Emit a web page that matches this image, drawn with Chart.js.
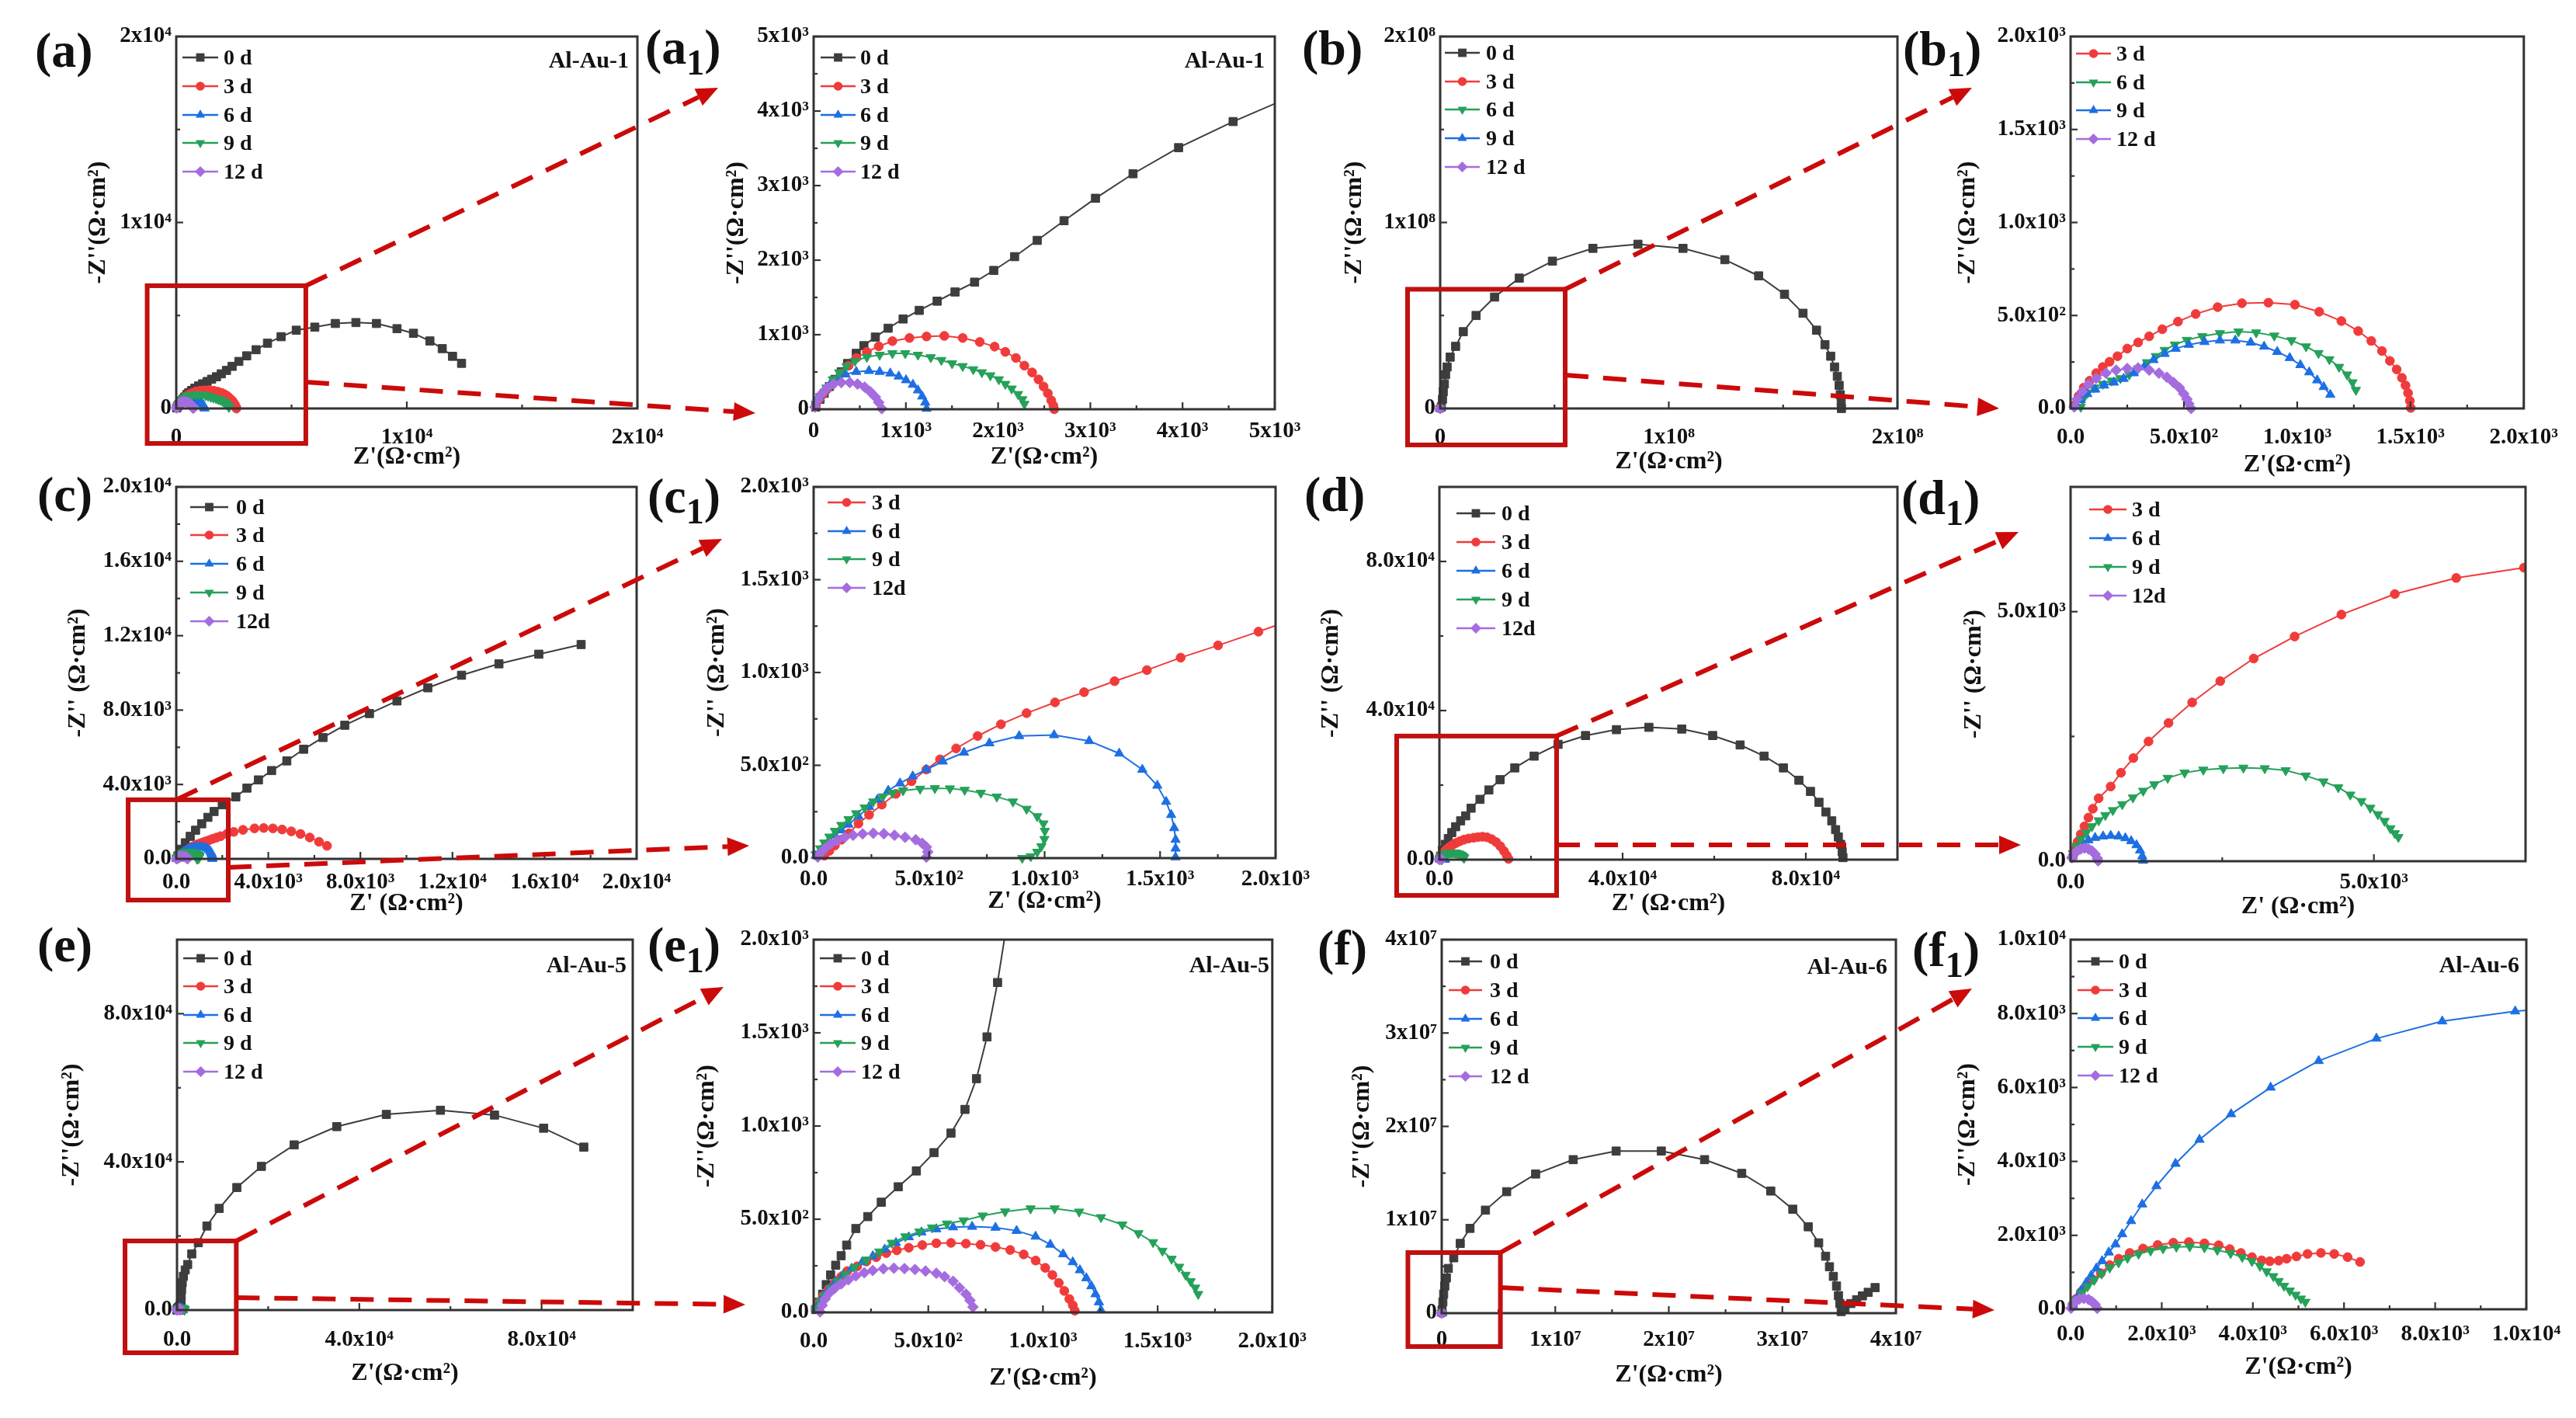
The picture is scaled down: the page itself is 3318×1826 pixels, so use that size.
<!DOCTYPE html>
<html><head><meta charset="utf-8">
<title>EIS Nyquist plots of Al-Au samples</title>
<script src="https://cdn.jsdelivr.net/npm/chart.js@4.4.1/dist/chart.umd.min.js"></script>
<style>
html,body{margin:0;padding:0;background:#fff;}
body{position:relative;width:3318px;height:1826px;overflow:hidden;font-family:'Liberation Serif','Times New Roman',serif;font-weight:bold;color:#111;}
.pl{position:absolute;font-size:64px;line-height:1;white-space:nowrap;z-index:5;}
.pl span{font-size:0.72em;position:relative;top:0.3em;}
.sm{position:absolute;font-size:30px;line-height:1;white-space:nowrap;z-index:5;}
.lr{position:absolute;height:34px;display:flex;align-items:center;font-size:28px;line-height:34px;white-space:nowrap;z-index:5;}
.lr svg{display:block;flex:none;}
#ov{position:absolute;left:0;top:0;z-index:3;pointer-events:none;}
</style></head><body>
<canvas id="ov" width="3318" height="1826"></canvas>
<script>
// ---------- categories ----------
const days = ['0 d','3 d','6 d','9 d','12 d'];
const daysB = ['0 d','3 d','6 d','9 d','12d'];

// ---------- tick values and labels ----------
const tA  = [0,1e4,2e4];                 const lA  = ['0','1x10⁴','2x10⁴'];
const tA1 = [0,1e3,2e3,3e3,4e3,5e3];     const lA1 = ['0','1x10³','2x10³','3x10³','4x10³','5x10³'];
const tB  = [0,1e8,2e8];                 const lB  = ['0','1x10⁸','2x10⁸'];
const tZ2 = [0,500,1000,1500,2000];      const lZ2 = ['0.0','5.0x10²','1.0x10³','1.5x10³','2.0x10³'];
const tC  = [0,4e3,8e3,1.2e4,1.6e4,2e4]; const lC  = ['0.0','4.0x10³','8.0x10³','1.2x10⁴','1.6x10⁴','2.0x10⁴'];
const tD  = [0,4e4,8e4];                 const lD  = ['0.0','4.0x10⁴','8.0x10⁴'];
const tD1 = [0,5e3];                     const lD1 = ['0.0','5.0x10³'];
const tF  = [0,1e7,2e7,3e7,4e7];         const lF  = ['0','1x10⁷','2x10⁷','3x10⁷','4x10⁷'];
const tF1 = [0,2e3,4e3,6e3,8e3,1e4];     const lF1 = ['0.0','2.0x10³','4.0x10³','6.0x10³','8.0x10³','1.0x10⁴'];

// ---------- data: [Z', -Z''] in Ω·cm² ----------
// Al-Au-1 (a, a1)
const a_0d  = [[23,29],[69,132],[115,214],[171,305],[231,400],[300,503],[369,614],[462,750],[545,853],[669,968],[808,1087],[970,1211],[1145,1326],[1339,1450],[1533,1573],[1745,1705],[1953,1862],[2179,2047],[2424,2265],[2715,2529],[3056,2830],[3463,3159],[3957,3509],[4548,3859],[5206,4208],[6009,4373],[6900,4571],[7792,4620],[8683,4571],[9575,4290],[10288,4043],[11001,3630],[11536,3218],[11982,2805],[12374,2426]];
const a_3d  = [[23,49],[60,132],[102,202],[148,276],[217,379],[300,482],[379,585],[462,688],[577,770],[706,844],[854,914],[1039,956],[1224,976],[1417,984],[1616,956],[1801,902],[1962,840],[2078,770],[2193,688],[2285,585],[2369,494],[2438,400],[2493,305],[2539,214],[2576,119],[2599,49],[2609,0]];
const a_6d  = [[23,49],[69,152],[125,255],[185,346],[254,420],[346,470],[462,503],[600,515],[716,503],[831,482],[923,441],[1002,391],[1076,330],[1131,255],[1177,173],[1210,91],[1224,8]];
const a_9d  = [[23,70],[69,173],[139,288],[208,400],[277,494],[356,577],[448,647],[577,700],[716,729],[854,750],[993,750],[1131,729],[1270,696],[1385,659],[1501,614],[1616,577],[1731,535],[1824,494],[1916,453],[2008,400],[2078,338],[2147,276],[2216,202],[2262,132],[2285,70]];
const a_12d = [[14,29],[46,132],[92,214],[148,288],[217,338],[300,358],[392,358],[476,338],[554,297],[614,235],[669,165],[706,91],[739,8]];
// sample (b, b1)
const b_0d  = [[5.1e5,8.3e5],[1.01e6,4.95e6],[1.35e6,9.08e6],[1.85e6,1.32e7],[2.36e6,1.82e7],[3.04e6,2.23e7],[4.38e6,2.76e7],[6.75e6,3.34e7],[1.01e7,4.13e7],[1.57e7,5.0e7],[2.38e7,5.99e7],[3.46e7,7.01e7],[4.91e7,7.92e7],[6.68e7,8.61e7],[8.65e7,8.83e7],[1.062e8,8.61e7],[1.245e8,8.0e7],[1.393e8,7.13e7],[1.506e8,6.14e7],[1.587e8,5.12e7],[1.646e8,4.21e7],[1.683e8,3.43e7],[1.708e8,2.81e7],[1.725e8,2.23e7],[1.737e8,1.73e7],[1.745e8,1.24e7],[1.75e8,7.4e6],[1.754e8,3.3e6],[1.755e8,0]];
const b_3d  = [[16,17],[35,66],[58,112],[84,149],[113,190],[142,223],[172,251],[207,281],[250,322],[298,355],[347,388],[405,426],[474,467],[552,508],[649,545],[756,566],[873,569],[990,558],[1097,520],[1195,470],[1269,416],[1327,363],[1374,309],[1409,256],[1439,210],[1462,165],[1478,124],[1489,83],[1497,41],[1501,3]];
const b_6d  = [[45,8],[55,50],[74,83],[103,112],[142,132],[181,149],[220,162],[259,182],[298,215],[337,248],[376,281],[415,314],[460,343],[513,368],[581,388],[659,404],[741,413],[819,408],[899,391],[975,366],[1039,333],[1094,297],[1142,264],[1185,223],[1220,182],[1244,140],[1259,99]];
const b_9d  = [[25,13],[45,46],[74,78],[109,102],[148,124],[191,140],[234,160],[279,190],[324,223],[366,261],[415,294],[464,322],[522,343],[591,358],[659,366],[727,366],[795,355],[854,333],[912,305],[967,272],[1014,234],[1053,195],[1088,152],[1117,116],[1146,74]];
const b_12d = [[16,8],[29,50],[51,91],[78,129],[113,162],[156,190],[201,206],[250,215],[298,218],[347,206],[390,190],[425,168],[454,140],[480,112],[499,79],[513,50],[522,25],[532,0]];
// sample (c, c1)
const c_0d  = [[71,157],[214,519],[393,865],[607,1211],[839,1541],[1107,1887],[1375,2233],[1643,2547],[2000,2909],[2589,3333],[3071,3805],[3571,4245],[4143,4748],[4804,5267],[5536,5896],[6375,6525],[7321,7185],[8393,7814],[9589,8490],[10929,9198],[12393,9874],[14018,10487],[15750,11006],[17589,11525]];
const c_3d  = [[46,13],[68,39],[92,68],[120,99],[153,134],[194,186],[240,233],[295,288],[356,346],[424,414],[488,477],[547,532],[617,591],[710,658],[811,721],[922,781],[1045,839],[1171,894],[1303,953],[1443,1013],[1589,1080],[1751,1146],[1926,1220],[2200,1340],[2500,1450],[2900,1560],[3400,1640],[3800,1660],[4200,1640],[4600,1580],[5000,1480],[5400,1340],[5800,1150],[6200,920],[6550,700]];
const c_6d  = [[9,13],[28,39],[46,68],[68,96],[92,123],[120,150],[151,181],[194,225],[240,276],[276,315],[323,364],[374,403],[429,441],[488,477],[559,521],[651,569],[761,619],[890,658],[1041,663],[1193,631],[1323,564],[1423,477],[1488,391],[1526,304],[1548,233],[1561,162],[1567,99],[1567,52],[1567,5]];
const c_9d  = [[9,20],[28,52],[46,83],[68,115],[92,146],[120,178],[151,209],[184,241],[221,272],[258,304],[300,332],[341,351],[387,364],[461,373],[525,376],[590,375],[654,367],[724,351],[793,331],[863,304],[922,265],[968,225],[995,186],[1001,146],[999,102],[986,63],[968,33],[940,9],[903,0]];
const c_12d = [[18,5],[31,28],[50,52],[74,76],[101,94],[135,112],[171,123],[212,131],[258,134],[304,131],[350,123],[396,112],[442,99],[470,80],[488,60],[494,33],[488,5]];
// sample (d, d1)
const d_0d  = [[253,947],[675,2525],[1266,4103],[1941,5681],[2700,7259],[3544,8837],[4641,10415],[5739,11756],[6920,13808],[8861,16175],[10802,18699],[13249,21461],[16456,24617],[20676,27773],[25908,30929],[31899,33296],[38651,34874],[45739,35505],[52913,35032],[59664,33296],[65655,30771],[70888,27773],[75107,24617],[78483,21303],[81014,18305],[82871,15386],[84390,12782],[85656,10415],[86500,8048],[87091,6075],[87597,4103],[87934,2130],[88103,552]];
const d_3d  = [[37,100],[73,246],[117,393],[169,540],[228,698],[294,874],[367,1051],[463,1262],[661,1497],[830,1772],[1035,2066],[1285,2400],[1615,2770],[2004,3181],[2467,3609],[3018,4061],[3693,4502],[4464,4942],[5345,5353],[6358,5675],[7474,5881],[8400,6050],[9400,6150],[10400,6000],[11400,5500],[12400,4700],[13300,3600],[14100,2300],[14700,1100],[15100,200]];
const d_6d  = [[37,100],[81,205],[132,288],[206,364],[294,423],[404,470],[536,499],[661,511],[793,499],[903,464],[999,405],[1087,323],[1145,217],[1182,100],[1197,12]];
const d_9d  = [[37,158],[95,305],[169,440],[257,569],[352,698],[463,816],[573,921],[697,1021],[852,1139],[1028,1274],[1197,1409],[1380,1538],[1601,1667],[1880,1772],[2188,1831],[2518,1860],[2849,1872],[3201,1860],[3546,1819],[3877,1714],[4170,1596],[4413,1479],[4611,1332],[4794,1203],[4941,1068],[5066,939],[5176,804],[5272,657],[5345,558],[5404,481]];
const d_12d = [[22,70],[59,147],[110,205],[169,246],[228,264],[294,246],[352,205],[404,141],[441,59],[455,6]];
// Al-Au-5 (e, e1)
const e_0d  = [[9,15],[24,55],[39,98],[55,149],[74,201],[96,253],[120,304],[144,361],[184,450],[236,514],[295,591],[369,674],[448,759],[525,857],[599,962],[660,1089],[710,1254],[756,1478],[802,1770],[870,2300],[930,3900],[1000,5600],[1150,7400],[1400,9100],[1798,10823],[2337,12294],[3236,15152],[4674,18182],[6562,22684],[9259,27446],[13124,33074],[18517,38788],[25709,44589],[35058,49524],[45935,52814],[57801,53939],[69671,52641],[80452,49091],[89261,43983]];
const e_3d  = [[9,21],[24,55],[42,89],[65,124],[92,158],[120,191],[147,222],[190,247],[230,273],[273,296],[317,318],[363,333],[415,347],[474,361],[535,371],[599,373],[664,369],[728,363],[793,351],[857,335],[916,311],[968,278],[1010,239],[1041,201],[1069,158],[1093,115],[1115,72],[1130,38],[1139,9]];
const e_6d  = [[9,21],[28,58],[46,93],[70,129],[96,165],[129,201],[166,235],[212,270],[258,302],[310,338],[359,373],[415,404],[470,430],[535,447],[608,457],[691,460],[793,455],[885,438],[968,407],[1032,364],[1088,313],[1130,270],[1161,227],[1189,184],[1211,141],[1229,98],[1244,55],[1253,12]];
const e_9d  = [[9,21],[28,55],[46,89],[74,129],[105,167],[138,204],[179,241],[230,282],[286,326],[341,373],[400,407],[461,433],[516,455],[581,476],[654,493],[737,519],[835,541],[946,557],[1051,557],[1158,540],[1253,510],[1346,471],[1416,424],[1480,376],[1521,330],[1561,287],[1594,244],[1622,201],[1644,167],[1664,132],[1677,98]];
const e_12d = [[28,3],[37,38],[50,72],[68,103],[92,129],[120,153],[151,175],[184,196],[221,213],[258,225],[304,234],[350,237],[396,235],[442,230],[488,222],[535,210],[571,192],[608,167],[636,132],[664,98],[682,64],[695,29]];
// Al-Au-6 (f, f1)
const f_0d  = [[3e4,3.4e5],[1.0e5,1.2e6],[1.7e5,2.05e6],[2.7e5,2.91e6],[4.1e5,3.77e6],[5.8e5,4.79e6],[1.06e6,5.93e6],[1.63e6,7.47e6],[2.49e6,9.08e6],[3.85e6,1.103e7],[5.72e6,1.301e7],[8.27e6,1.49e7],[1.158e7,1.644e7],[1.536e7,1.736e7],[1.934e7,1.736e7],[2.315e7,1.644e7],[2.642e7,1.497e7],[2.898e7,1.308e7],[3.092e7,1.113e7],[3.228e7,9.25e6],[3.32e7,7.53e6],[3.381e7,6.1e6],[3.415e7,4.97e6],[3.449e7,3.94e6],[3.477e7,2.91e6],[3.494e7,1.88e6],[3.507e7,1.03e6],[3.518e7,1.7e5],[3.552e7,5.1e5],[3.603e7,1.03e6],[3.654e7,1.44e6],[3.705e7,1.85e6],[3.756e7,2.23e6],[3.817e7,2.74e6]];
const f_3d  = [[49,113],[127,286],[224,459],[341,632],[488,805],[663,978],[859,1195],[1054,1368],[1298,1524],[1590,1645],[1912,1740],[2254,1801],[2595,1818],[2937,1784],[3249,1732],[3493,1628],[3737,1524],[3980,1411],[4195,1325],[4371,1299],[4566,1316],[4741,1368],[4956,1429],[5200,1498],[5493,1524],[5785,1498],[6078,1411],[6351,1281]];
const f_6d  = [[49,113],[127,286],[224,502],[341,719],[449,909],[566,1108],[693,1307],[839,1541],[985,1758],[1132,2035],[1327,2390],[1571,2840],[1883,3333],[2302,3939],[2829,4589],[3522,5281],[4390,6000],[5444,6719],[6712,7325],[8156,7792],[9756,8061],[11500,8250]];
const f_9d  = [[49,113],[127,268],[244,442],[371,615],[517,788],[683,961],[859,1126],[1054,1264],[1249,1385],[1493,1498],[1756,1584],[2029,1645],[2322,1688],[2615,1697],[2937,1671],[3220,1602],[3512,1515],[3766,1411],[3980,1299],[4156,1169],[4302,1022],[4449,892],[4566,762],[4683,632],[4810,502],[4936,390],[5054,286],[5151,199]];
const f_12d = [[10,26],[49,130],[107,216],[195,277],[293,294],[390,268],[468,208],[537,130],[585,26]];

// ---------- styles ----------
const FONT = "'Liberation Serif','Times New Roman',serif";
const MK = {
  sq:{color:'#3d3d3d', style:'rect',     r:7.5, rot:0},
  ci:{color:'#f03b3b', style:'circle',   r:5.8, rot:0},
  up:{color:'#1d6fe3', style:'triangle', r:7,   rot:0},
  dn:{color:'#25a159', style:'triangle', r:7,   rot:180},
  di:{color:'#a56ce0', style:'rectRot',  r:7,   rot:0}
};
const LPAD=165, RPAD=60, TPAD=30, BPAD=110;
const ZX="Z'(Ω·cm²)", ZY="-Z''(Ω·cm²)", ZX2="Z' (Ω·cm²)", ZY2="-Z'' (Ω·cm²)";
const S = (label,data,mk)=>({label,data,mk});
const serA  = [S(days[0],a_0d,'sq'),S(days[1],a_3d,'ci'),S(days[2],a_6d,'up'),S(days[3],a_9d,'dn'),S(days[4],a_12d,'di')];
const serB1 = [S(days[1],b_3d,'ci'),S(days[2],b_6d,'dn'),S(days[3],b_9d,'up'),S(days[4],b_12d,'di')];
const serB  = [S(days[0],b_0d,'sq')].concat(serB1);
const serC1 = [S(daysB[1],c_3d,'ci'),S(daysB[2],c_6d,'up'),S(daysB[3],c_9d,'dn'),S(daysB[4],c_12d,'di')];
const serC  = [S(daysB[0],c_0d,'sq')].concat(serC1);
const serD1 = [S(daysB[1],d_3d,'ci'),S(daysB[2],d_6d,'up'),S(daysB[3],d_9d,'dn'),S(daysB[4],d_12d,'di')];
const serD  = [S(daysB[0],d_0d,'sq')].concat(serD1);
const serE  = [S(days[0],e_0d,'sq'),S(days[1],e_3d,'ci'),S(days[2],e_6d,'up'),S(days[3],e_9d,'dn'),S(days[4],e_12d,'di')];
const serF  = [S(days[0],f_0d,'sq'),S(days[1],f_3d,'ci'),S(days[2],f_6d,'up'),S(days[3],f_9d,'dn'),S(days[4],f_12d,'di')];

const panels = [
 {rect:[227,47,821,526], r:[0,2e4], t:tA, l:lA, xpad:20, xOff:63, yOff:100, tx:ZX, ty:ZY, series:serA,
  leg:{x:235,w:46,gap:7,y0:74,dy:36.8}, lab:{x:45,y:33,t:'a'}, sample:{t:'Al-Au-1',r:810,y:62},
  box:[-1260,5620,-1880,6600], arrows:[{from:[5620,6600],to:[925,113]},{from:[5620,1420],to:[973,532]}]},
 {rect:[1048,47,1642,527], r:[0,5e3], t:tA1, l:lA1, xpad:11, xOff:62, yOff:99, tx:ZX, ty:ZY, series:serA,
  leg:{x:1057,w:45,gap:6,y0:74,dy:36.8}, lab:{x:831,y:29,t:'a',sub:'1'}, sample:{t:'Al-Au-1',r:1629,y:62}},
 {rect:[1855,47,2444,526], r:[0,2e8], t:tB, l:lB, xpad:20, xOff:69, yOff:110, tx:ZX, ty:ZY, series:serB,
  leg:{x:1861,w:45,gap:8,y0:68,dy:36.7}, lab:{x:1677,y:30,t:'b'},
  box:[-1.426e7,5.467e7,-1.96e7,6.41e7], arrows:[{from:[5.467e7,6.41e7],to:[2540,113]},{from:[5.467e7,1.8e7],to:[2575,526]}]},
 {rect:[2667,47,3255,526], r:[0,2e3], t:tZ2, l:lZ2, xpad:20, xOff:73, yOff:132, tx:ZX, ty:ZY, series:serB1,
  leg:{x:2674,w:45,gap:7,y0:69,dy:36.5}, lab:{x:2451,y:31,t:'b',sub:'1'}},
 {rect:[227,627,820,1106], r:[0,2e4], t:tC, l:lC, xpad:13, xOff:58, yOff:126, tx:ZX2, ty:ZY2, series:serC,
  leg:{x:245,w:49,gap:10,y0:652.7,dy:36.7}, lab:{x:48,y:605,t:'c'},
  box:[-2090,2260,-2215,3177], arrows:[{from:[0,3177],to:[930,694]},{from:[2260,-460],to:[965,1089]}]},
 {rect:[1048,627,1643,1105], r:[0,2e3], t:tZ2, l:lZ2, xpad:10, xOff:56, yOff:124, tx:ZX2, ty:ZY2, series:serC1,
  leg:{x:1066,w:49,gap:8,y0:647,dy:36.7}, lab:{x:834,y:607,t:'c',sub:'1'}},
 {rect:[1854,627,2444,1107], r:[0,1e5], t:tD, l:lD, xpad:8, xOff:57, yOff:139, tx:ZX2, ty:ZY2, series:serD,
  leg:{x:1876,w:50,gap:8,y0:661,dy:37}, lab:{x:1680,y:605,t:'d'},
  box:[-9322,25593,-9593,33160], arrows:[{from:[25593,33160],to:[2600,685]},{from:[25593,3960],to:[2603,1088]}]},
 {rect:[2667,627,3253,1109], r:[0,7500], t:tD1, l:lD1, xpad:10, xOff:59, yOff:124, tx:ZX2, ty:ZY2, series:serD1,
  leg:{x:2691,w:48,gap:7,y0:656,dy:37}, lab:{x:2449,y:609,t:'d',sub:'1'}},
 {rect:[228,1210,815,1687], r:[0,1e5], t:tD, l:lD, xpad:21, xOff:82, yOff:135, tx:ZX, ty:ZY, series:serE,
  leg:{x:236,w:45,gap:7,y0:1233.6,dy:36.5}, lab:{x:48,y:1185,t:'e'}, sample:{t:'Al-Au-5',r:807,y:1227},
  box:[-11407,13007,-11530,18658], arrows:[{from:[13007,18658],to:[932,1271]},{from:[13007,3350],to:[960,1680]}]},
 {rect:[1048,1210,1643,1690], r:[0,2e3], t:tZ2, l:lZ2, xpad:20, xOff:85, yOff:137.5, tx:ZX, ty:ZY, series:serE,
  leg:{x:1056,w:46,gap:7,y0:1233.6,dy:36.5}, lab:{x:834,y:1185,t:'e',sub:'1'}, sample:{t:'Al-Au-5',r:1635,y:1227}},
 {rect:[1857,1210,2442,1691], r:[0,4e7], t:tF, l:lF, xpad:17, xOff:80, yOff:102.5, tx:ZX, ty:ZY, series:serF,
  leg:{x:1866,w:43,gap:10,y0:1237.7,dy:37}, lab:{x:1697,y:1189,t:'f'}, sample:{t:'Al-Au-6',r:2431,y:1229},
  box:[-2.977e6,5.168e6,-3.576e6,6.486e6], arrows:[{from:[5.168e6,6.486e6],to:[2540,1273]},{from:[5.168e6,2.74e6],to:[2569,1687]}]},
 {rect:[2667,1210,3254,1686], r:[0,1e4], t:tF1, l:lF1, xpad:15, xOff:75, yOff:132.5, tx:ZX, ty:ZY, series:serF,
  leg:{x:2676,w:46,gap:7,y0:1237.7,dy:36.8}, lab:{x:2463,y:1191,t:'f',sub:'1'}, sample:{t:'Al-Au-6',r:3245,y:1227}}
];

Chart.defaults.font.family = FONT;
Chart.defaults.font.weight = 'bold';
Chart.defaults.color = '#111';

function minorVals(t, r){
  const step = (t[1]-t[0])/2, out=[];
  for(let k=1; r[0]+k*step < r[1]-step*0.01; k++){
    const v = r[0]+k*step;
    if(!t.some(m=>Math.abs(m-v)<step*0.01)) out.push(v);
  }
  return out;
}

function framePlugin(p){
  return {
    id:'frame',
    afterDraw(chart){
      const {ctx, chartArea:a, scales:{x,y}} = chart;
      ctx.save();
      ctx.strokeStyle='#333'; ctx.lineWidth=2.2;
      const tx=(v,len)=>{const px=x.getPixelForValue(v);ctx.beginPath();ctx.moveTo(px,a.bottom);ctx.lineTo(px,a.bottom-len);ctx.stroke();};
      const ty=(v,len)=>{const py=y.getPixelForValue(v);ctx.beginPath();ctx.moveTo(a.left,py);ctx.lineTo(a.left+len,py);ctx.stroke();};
      p.t.forEach(v=>{tx(v,9);ty(v,9);});
      minorVals(p.t,p.r).forEach(v=>{tx(v,5);ty(v,5);});
      ctx.lineWidth=3;
      ctx.strokeRect(a.left,a.top,a.right-a.left,a.bottom-a.top);
      if(p.box){
        const [x0,x1,y0,y1]=p.box;
        const X0=x.getPixelForValue(x0),X1=x.getPixelForValue(x1),Y0=y.getPixelForValue(y0),Y1=y.getPixelForValue(y1);
        ctx.strokeStyle='#c01010'; ctx.lineWidth=6;
        ctx.strokeRect(X0,Y1,X1-X0,Y0-Y1);
      }
      ctx.restore();
    }
  };
}

function axis(p, isX){
  const font={family:FONT,size:29,weight:'bold'};
  const o={
    type:'linear', position:isX?'bottom':'left', min:p.r[0], max:p.r[1],
    grid:{display:false,drawTicks:false}, border:{display:false},
    ticks:{font, color:'#111', padding:isX?p.xpad:6, autoSkip:false, maxRotation:0, minRotation:0,
           callback:(v,i)=>p.l[i]},
    afterBuildTicks:s=>{s.ticks=p.t.map(v=>({value:v}));},
    title:{display:true, text:isX?p.tx:p.ty, color:'#111', font:{family:FONT,size:32,weight:'bold'},
           padding:isX?{top:0,bottom:BPAD-p.xOff-19.2}:{top:LPAD-p.yOff-19.2,bottom:0}}
  };
  if(isX) o.afterFit=s=>{s.height=BPAD;}; else o.afterFit=s=>{s.width=LPAD;};
  return o;
}

const charts=[];
panels.forEach(p=>{
  const [L,T,R,B]=p.rect;
  const W=R-L+LPAD+RPAD, H=B-T+TPAD+BPAD;
  const cv=document.createElement('canvas');
  cv.width=W; cv.height=H;
  cv.style.cssText=`position:absolute;left:${L-LPAD}px;top:${T-TPAD}px;width:${W}px;height:${H}px;z-index:1;`;
  document.body.appendChild(cv);
  const n=p.series.length;
  const datasets=p.series.map((s,i)=>{
    const m=MK[s.mk];
    return {label:s.label, data:s.data.map(([x,y])=>({x,y})), showLine:true, tension:0,
      borderColor:m.color, backgroundColor:m.color, borderWidth:2,
      pointStyle:m.style, pointRotation:m.rot, pointRadius:m.r, pointHoverRadius:m.r,
      pointBackgroundColor:m.color, pointBorderColor:m.color, pointBorderWidth:1,
      order:n-i, clip:{left:9,bottom:9,right:0,top:0}};
  });
  const ch=new Chart(cv,{type:'scatter', data:{datasets},
    options:{responsive:false, animation:false, devicePixelRatio:1, events:[],
      layout:{padding:{left:0,top:TPAD,right:RPAD,bottom:0}},
      plugins:{legend:{display:false},tooltip:{enabled:false}},
      scales:{x:axis(p,true), y:axis(p,false)}},
    plugins:[framePlugin(p)]});
  charts.push({p,ch,ox:L-LPAD,oy:T-TPAD});

  // legend (HTML text)
  p.series.forEach((s,i)=>{
    const m=MK[s.mk], w=p.leg.w, cx=w/2, cy=17, r=m.r;
    let shape='';
    if(s.mk==='sq'){const h=r*0.72;shape=`<rect x="${cx-h}" y="${cy-h}" width="${2*h}" height="${2*h}" fill="${m.color}"/>`;}
    else if(s.mk==='ci'){shape=`<circle cx="${cx}" cy="${cy}" r="${r}" fill="${m.color}"/>`;}
    else if(s.mk==='up'){shape=`<polygon points="${cx},${cy-r} ${cx+r*0.866},${cy+r*0.5} ${cx-r*0.866},${cy+r*0.5}" fill="${m.color}"/>`;}
    else if(s.mk==='dn'){shape=`<polygon points="${cx},${cy+r} ${cx+r*0.866},${cy-r*0.5} ${cx-r*0.866},${cy-r*0.5}" fill="${m.color}"/>`;}
    else {shape=`<polygon points="${cx},${cy-r} ${cx+r},${cy} ${cx},${cy+r} ${cx-r},${cy}" fill="${m.color}"/>`;}
    const row=document.createElement('div');
    row.className='lr';
    row.style.left=p.leg.x+'px';
    row.style.top=(p.leg.y0+i*p.leg.dy-17)+'px';
    row.innerHTML=`<svg width="${w}" height="34" viewBox="0 0 ${w} 34"><line x1="0" y1="17" x2="${w}" y2="17" stroke="${m.color}" stroke-width="2.4"/>${shape}</svg><span style="margin-left:${p.leg.gap}px">${s.label}</span>`;
    document.body.appendChild(row);
  });
  // panel label
  const lb=document.createElement('div');
  lb.className='pl'; lb.style.left=p.lab.x+'px'; lb.style.top=p.lab.y+'px';
  lb.innerHTML='('+p.lab.t+(p.lab.sub?'<span>'+p.lab.sub+'</span>':'')+')';
  document.body.appendChild(lb);
  // sample name
  if(p.sample){
    const sm=document.createElement('div');
    sm.className='sm'; sm.style.right=(3318-p.sample.r)+'px'; sm.style.top=p.sample.y+'px';
    sm.textContent=p.sample.t;
    document.body.appendChild(sm);
  }
});

// dashed zoom arrows from each box to its enlarged panel
const ov=document.getElementById('ov').getContext('2d');
function drawArrow(x0,y0,x1,y1){
  const dx=x1-x0, dy=y1-y0, len=Math.hypot(dx,dy), ux=dx/len, uy=dy/len;
  const head=28, hw=12, bx=x1-ux*head, by=y1-uy*head;
  ov.save();
  ov.strokeStyle='#cc0a0a'; ov.fillStyle='#cc0a0a'; ov.lineWidth=6; ov.setLineDash([30,19]);
  ov.beginPath(); ov.moveTo(x0,y0); ov.lineTo(bx,by); ov.stroke();
  ov.setLineDash([]);
  ov.beginPath(); ov.moveTo(x1,y1); ov.lineTo(bx-uy*hw,by+ux*hw); ov.lineTo(bx+uy*hw,by-ux*hw); ov.closePath(); ov.fill();
  ov.restore();
}
charts.forEach(({p,ch,ox,oy})=>{
  if(!p.arrows) return;
  p.arrows.forEach(a=>{
    const sx=ox+ch.scales.x.getPixelForValue(a.from[0]);
    const sy=oy+ch.scales.y.getPixelForValue(a.from[1]);
    drawArrow(sx,sy,a.to[0],a.to[1]);
  });
});
</script>
</body></html>
